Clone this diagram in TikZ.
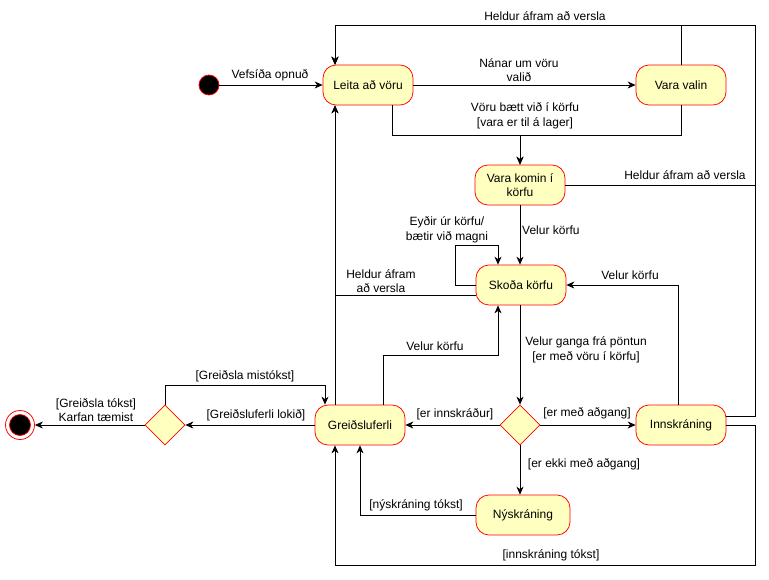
\documentclass[tikz,border=0pt]{standalone}
\usepackage{fontspec}
\setmainfont{Liberation Sans}
\usetikzlibrary{shapes.geometric,arrows.meta}
\definecolor{umlred}{RGB}{255,0,0}
\definecolor{umlfill}{RGB}{255,255,192}
\begin{document}
\begin{tikzpicture}[x=1pt,y=-1pt,
  txt/.style={font=\fontsize{12}{14.5}\selectfont},
  stt/.style={txt, draw=umlred, fill=umlfill, rounded corners=13pt,
    minimum width=90pt, minimum height=40pt, inner sep=0pt, align=center,
    line width=0.75pt},
  choice/.style={draw=umlred, fill=umlfill, diamond, aspect=1,
    minimum width=40pt, minimum height=40pt, inner sep=0pt, line width=0.75pt},
  lbl/.style={txt, align=center, inner sep=0pt},
  flow/.style={draw=black, line width=0.75pt,
    -{Stealth[length=8pt,width=7pt,inset=2.5pt]}}
]
\useasboundingbox (0,0) rectangle (769,579);
\fill[white] (0,0) rectangle (769,579);

% states
\node[circle, draw=umlred, fill=black, minimum size=20pt, inner sep=0pt, line width=0.75pt] (start) at (209,85) {};
\node[stt] (leita) at (368,85) {Leita að vöru};
\node[stt] (valin) at (681,85) {Vara valin};
\node[stt] (komin) at (520,185) {Vara komin í\\körfu};
\node[stt] (skoda) at (521,285) {Skoða körfu};
\node[choice] (dec) at (520,425) {};
\node[stt] (innsk) at (681,425) {Innskráning};
\node[stt] (greid) at (360,425) {Greiðsluferli};
\node[stt, minimum width=94pt] (nysk) at (523,515) {Nýskráning};
\node[choice] (dec2) at (165,425) {};
\node[circle, draw=umlred, fill=white, minimum size=29pt, inner sep=0pt, line width=0.75pt] (finish) at (20,425) {};
\node[circle, draw=umlred, fill=black, minimum size=21pt, inner sep=0pt, line width=0.75pt] (finishdot) at (20,425) {};

% bends shared by several transitions
\coordinate (topL) at (335,25);
\coordinate (topR) at (755,25);
\coordinate (botL) at (335,565);
\coordinate (botR) at (755,565);
\coordinate (join) at (520,135);

% transitions
\draw[flow] (start) -- (leita);
\draw[flow] (leita) -- (valin);
\draw[flow] (valin.north) |- (topL) -- (leita.north -| topL);
\draw[flow] (komin.east) -| (topR) -- (topL) -- (leita.north -| topL);
\draw[flow] ([yshift=9pt]innsk.east) -| (topR) -- (topL) -- (leita.north -| topL);
\draw[flow] (leita.south -| 392,0) |- (join) -- (komin.north);
\draw[flow] (valin.south) |- (join) -- (komin.north);
\draw[flow] (komin.south) -- (skoda.north -| komin.south);
\draw[flow] (skoda.west) -- ++(-20,0) |- (498,245) -- (skoda.north -| 498,0);
\draw[flow] ([yshift=-10pt]skoda.west) -| (leita.south -| 335,0);
\draw[flow] (greid.north -| 335,0) -- (leita.south -| 335,0);
\draw[flow] (skoda.south -| dec.north) -- (dec.north);
\draw[flow] (dec) -- (greid);
\draw[flow] (dec) -- (innsk);
\draw[flow] (dec.south) -- (nysk.north -| dec.south);
\draw[flow] (nysk.west) -| (greid.south -| 360,0);
\draw[flow] (innsk.east) -- (innsk.east -| botR) -- (botR) -- (botL) -- (greid.south -| botL);
\draw[flow] (innsk.north -| 678,0) |- (skoda.east);
\draw[flow] (greid.north -| 383,0) |- (498,355) -- (skoda.south -| 498,0);
\draw[flow] (greid) -- (dec2);
\draw[flow] (dec2.north) |- (325,385) -- (greid.north -| 325,0);
\draw[flow] (dec2) -- (finish);

% transition labels
\node[lbl] (l1) at (270,75) {Vefsíða opnuð};
\node[lbl] (l2) at (519,70) {Nánar um vöru\\valið};
\node[lbl] (l3) at (545,16) {Heldur áfram að versla};
\node[lbl] (l4) at (525,116) {Vöru bætt við í körfu\\{}[vara er til á lager]};
\node[lbl] (l5) at (685,175) {Heldur áfram að versla};
\node[lbl, anchor=west] (l6) at (522,230) {Velur körfu};
\node[lbl] (l7) at (447,230) {Eyðir úr körfu/\\bætir við magni};
\node[lbl] (l8) at (381,281) {Heldur áfram\\að versla};
\node[lbl] (l9) at (630,275) {Velur körfu};
\node[lbl] (l10) at (435,346) {Velur körfu};
\node[lbl] (l11) at (586,350) {Velur ganga frá pöntun\\{}[er með vöru í körfu]};
\node[lbl] (l12) at (455,414) {[er innskráður]};
\node[lbl] (l13) at (587,413) {[er með aðgang]};
\node[lbl] (l14) at (584,464) {[er ekki með aðgang]};
\node[lbl] (l15) at (416,505) {[nýskráning tókst]};
\node[lbl] (l16) at (551,555) {[innskráning tókst]};
\node[lbl] (l17) at (256,415) {[Greiðsluferli lokið]};
\node[lbl] (l18) at (245,376) {[Greiðsla mistókst]};
\node[lbl] (l19) at (96,410) {[Greiðsla tókst]\\Karfan tæmist};
\end{tikzpicture}
\end{document}
